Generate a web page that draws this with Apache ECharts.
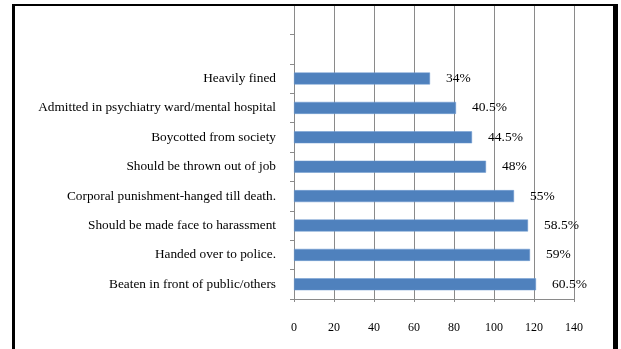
<!DOCTYPE html>
<html>
<head>
<meta charset="utf-8">
<script src="https://cdn.jsdelivr.net/npm/echarts@6/dist/echarts.min.js"></script>
<style>
  html, body { margin: 0; padding: 0; background: #fff; }
  #chart { position: absolute; left: 0; top: 0; width: 621px; height: 349px; }
  #frame { position: absolute; left: 12px; top: 4px; width: 606px; height: 360px; box-sizing: border-box;
           border-style: solid; border-color: #000; border-width: 2px 5px 2px 3px; pointer-events: none; }
</style>
</head>
<body>
<div id="chart"></div>
<div id="frame"></div>
<script>
// Responses, listed bottom to top; the two top slots are left empty
const categories = [
  'Beaten in front of public/others',
  'Handed over to police.',
  'Should be made face to harassment',
  'Corporal punishment-hanged till death.',
  'Should be thrown out of job',
  'Boycotted from society',
  'Admitted in psychiatry ward/mental hospital',
  'Heavily fined',
  '',
  ''
];
// Share of respondents choosing each response (%)
const percents = [60.5, 59, 58.5, 55, 48, 44.5, 40.5, 34, null, null];
// Number of respondents surveyed
const respondents = 200;
const xTicks = { min: 0, max: 140, interval: 20 };

const counts = percents.map(p => p == null ? null : p * respondents / 100);

const chart = echarts.init(document.getElementById('chart'));
const font = '"Liberation Serif", "Times New Roman", serif';
chart.setOption({
  animation: false,
  grid: { left: 294, right: 47, top: 5, bottom: 50, containLabel: false },
  xAxis: {
    type: 'value',
    min: xTicks.min, max: xTicks.max, interval: xTicks.interval,
    axisLine: { show: true, lineStyle: { color: '#8a8a8a', width: 1 } },
    axisTick: { show: true, length: 3, lineStyle: { color: '#8a8a8a' } },
    splitLine: { show: true, lineStyle: { color: '#8a8a8a', width: 1 } },
    axisLabel: { color: '#000', fontFamily: font, fontSize: 12, margin: 23 }
  },
  yAxis: {
    type: 'category',
    data: categories,
    axisLine: { show: true, lineStyle: { color: '#8a8a8a', width: 1 } },
    axisTick: { show: true, length: 4, lineStyle: { color: '#8a8a8a' } },
    axisLabel: { color: '#000', fontFamily: font, fontSize: 13.3, margin: 18 }
  },
  series: [{
    type: 'bar',
    data: counts,
    barWidth: 12,
    itemStyle: { color: '#4f81bd', borderColor: '#6f9bd0', borderWidth: 0.5 },
    label: {
      show: true,
      position: 'right',
      distance: 16,
      color: '#000',
      fontFamily: font,
      fontSize: 13.5,
      formatter: p => percents[p.dataIndex] + '%'
    }
  }]
});
</script>
</body>
</html>
